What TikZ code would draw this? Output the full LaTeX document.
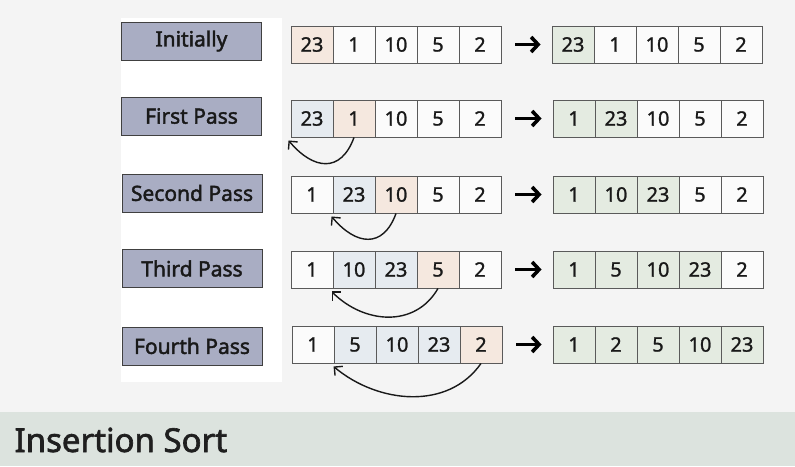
\documentclass[tikz,border=0pt]{standalone}
\usepackage{fontspec}
\setmainfont{Noto Sans}
\usetikzlibrary{arrows.meta,calc}
\definecolor{bgc}{HTML}{F4F4F4}
\definecolor{bandc}{HTML}{DCE3DE}
\definecolor{labc}{HTML}{A9ADC3}
\definecolor{peach}{HTML}{F5E8DF}
\definecolor{bluec}{HTML}{E6EBF0}
\definecolor{greenc}{HTML}{E4EBE1}
\definecolor{whitec}{HTML}{FBFBFB}
\definecolor{cellline}{HTML}{5A5A5A}
\tikzset{
  cellbox/.style={draw=cellline, line width=0.9pt, minimum width=42pt, minimum height=37pt, inner sep=0pt, font=\fontsize{20}{20}\selectfont\addfontfeature{FakeBold=1.2}, text=black!90},
  labbox/.style={draw=black!75, line width=1pt, fill=labc, minimum width=140pt, minimum height=38pt, inner sep=0pt, font=\fontsize{21}{21}\selectfont\addfontfeature{FakeBold=2}, text=black!90},
  movearrow/.style={line width=1.4pt, black!90, -{Straight Barb[length=6pt,width=12pt]}},
  passarrow/.style={line width=3.6pt, -{Straight Barb[length=7pt,width=15pt]}, shorten <=14pt, shorten >=11pt}
}
\begin{document}
\begin{tikzpicture}[x=1pt,y=-1pt]
\fill[bgc] (0,0) rectangle (795,466);
\useasboundingbox (0,0) rectangle (795,466);
\fill[white] (121,18) rectangle (282,382);
\fill[bandc] (0,412) rectangle (795,466);
\node[anchor=west, font=\fontsize{33}{33}\selectfont\addfontfeature{FakeBold=2}, text=black!88] (title) at (11,440) {Insertion Sort};

% labels
\node[labbox] (lab1) at (191.5,41) {Initially};
\node[labbox] (lab2) at (191.5,116) {First Pass};
\node[labbox] (lab3) at (192,193) {Second Pass};
\node[labbox] (lab4) at (192,268.5) {Third Pass};
\node[labbox] (lab5) at (192,346) {Fourth Pass};

% left arrays
\foreach \v/\c [count=\i] in {23/peach,1/whitec,10/whitec,5/whitec,2/whitec}
  \node[cellbox, fill=\c] (La\i) at ({312+42*(\i-1)},44.5) {\v};
\foreach \v/\c [count=\i] in {23/bluec,1/peach,10/whitec,5/whitec,2/whitec}
  \node[cellbox, fill=\c] (Lb\i) at ({312+42*(\i-1)},118.5) {\v};
\foreach \v/\c [count=\i] in {1/whitec,23/bluec,10/peach,5/whitec,2/whitec}
  \node[cellbox, fill=\c] (Lc\i) at ({312+42*(\i-1)},194.5) {\v};
\foreach \v/\c [count=\i] in {1/whitec,10/bluec,23/bluec,5/peach,2/whitec}
  \node[cellbox, fill=\c] (Ld\i) at ({312+42*(\i-1)},269.5) {\v};
\foreach \v/\c [count=\i] in {1/whitec,5/bluec,10/bluec,23/bluec,2/peach}
  \node[cellbox, fill=\c] (Le\i) at ({313+42*(\i-1)},344.5) {\v};

% right arrays
\foreach \v/\c [count=\i] in {23/greenc,1/whitec,10/whitec,5/whitec,2/whitec}
  \node[cellbox, fill=\c] (Ra\i) at ({573+42*(\i-1)},44.5) {\v};
\foreach \v/\c [count=\i] in {1/greenc,23/greenc,10/whitec,5/whitec,2/whitec}
  \node[cellbox, fill=\c] (Rb\i) at ({574+42*(\i-1)},118.5) {\v};
\foreach \v/\c [count=\i] in {1/greenc,10/greenc,23/greenc,5/whitec,2/whitec}
  \node[cellbox, fill=\c] (Rc\i) at ({574+42*(\i-1)},194.5) {\v};
\foreach \v/\c [count=\i] in {1/greenc,5/greenc,10/greenc,23/greenc,2/whitec}
  \node[cellbox, fill=\c] (Rd\i) at ({574+42*(\i-1)},269.5) {\v};
\foreach \v/\c [count=\i] in {1/greenc,2/greenc,5/greenc,10/greenc,23/greenc}
  \node[cellbox, fill=\c] (Re\i) at ({574+42*(\i-1)},344.5) {\v};

% pass arrows
\draw[passarrow] (La5.east) -- (Ra1.west);
\draw[passarrow] (Lb5.east) -- (Rb1.west);
\draw[passarrow] (Lc5.east) -- (Rc1.west);
\draw[passarrow] (Ld5.east) -- (Rd1.west);
\draw[passarrow] (Le5.east) -- (Re1.west);

% move arrows
\draw[movearrow] (Lb2.south) to[out=-110, in=-50, looseness=1.5] ($(Lb1.south west)+(-2,3)$);
\draw[movearrow] (Lc3.south) to[out=-110, in=-50, looseness=1.5] ($(Lc2.south west)+(-1,3)$);
\draw[movearrow] (Ld4.south) to[out=-120, in=-45, looseness=1.1] ($(Ld2.south west)+(-1,3)$);
\draw[movearrow] (Le5.south) to[out=-125, in=-40, looseness=1.0] ($(Le2.south west)+(0,3)$);
\end{tikzpicture}
\end{document}
